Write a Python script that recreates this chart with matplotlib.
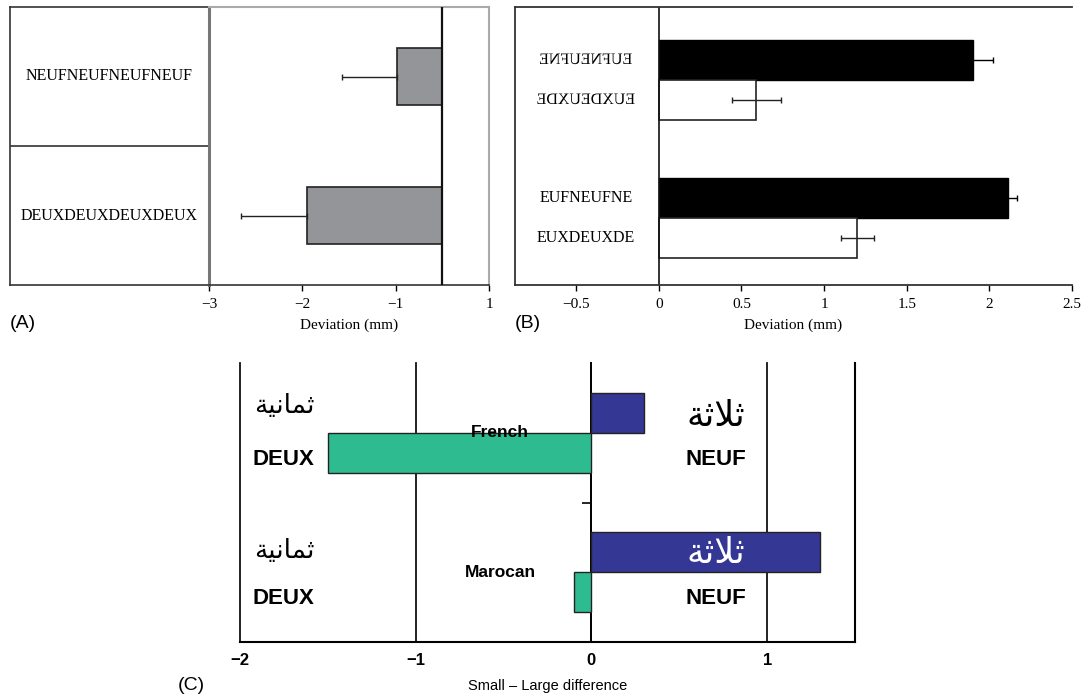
import matplotlib
matplotlib.use('Agg')
import matplotlib.pyplot as plt
from matplotlib import patheffects
from matplotlib.transforms import Affine2D

# ── Panel A data ─────────────────────────────────────────────────────────────
a_words = ['DEUXDEUXDEUXDEUX', 'NEUFNEUFNEUFNEUF']
a_dev = [-1.95, -0.99]
a_err_low = [0.71, 0.59]
a_ref = -0.5
a_ticks = [-3, -2, -1, 0]
a_tick_labels = ['\u22123', '\u22122', '\u22121', '1']

# ── Panel B data (index 0 = lower group, 1 = upper mirrored group) ──────────
b_neuf_words = ['EUFNEUFNE', 'EUFNEUFNE']
b_deux_words = ['EUXDEUXDE', 'EUXDEUXDE']
b_mirrored = [False, True]
b_neuf = [2.11, 1.90]
b_neuf_err = [0.06, 0.12]
b_deux = [1.20, 0.59]
b_deux_err = [0.10, 0.15]
b_ticks = [-0.5, 0, 0.5, 1, 1.5, 2, 2.5]
b_tick_labels = ['\u22120.5', '0', '0.5', '1', '1.5', '2', '2.5']

# ── Panel C data (index 0 = Marocan, 1 = French) ─────────────────────────────
c_groups = ['Marocan', 'French']
c_neuf = [1.30, 0.30]
c_deux = [-0.10, -1.50]
c_ticks = [-2, -1, 0, 1]
c_tick_labels = ['\u22122', '\u22121', '0', '1']
# Arabic words, shaped presentation forms in visual order
ar_eight = '\uFE94\uFEF4\uFEE7\uFE8E\uFEE4\uFE9B'   # ثمانية
ar_three = '\uFE94\uFE9B\uFEFC\uFE9B'               # ثلاثة

SERIF = 'Liberation Serif'
SANS = 'Liberation Sans'
GREY = '#939598'
BLUE = '#353795'
GREEN = '#2ebb8f'


class Mirror(patheffects.AbstractPathEffect):
    """Draw the text path flipped left-right around its own centre."""
    def draw_path(self, renderer, gc, tpath, affine, rgbFace=None):
        ext = tpath.get_extents(affine)
        cx = 0.5 * (ext.x0 + ext.x1)
        flip = affine + Affine2D().translate(-cx, 0).scale(-1, 1).translate(cx, 0)
        renderer.draw_path(gc, tpath, flip, rgbFace)


W, H = 1090, 698
fig = plt.figure(figsize=(W / 100, H / 100), dpi=100)


def box(x0, y0, x1, y1):
    return [x0 / W, 1 - y1 / H, (x1 - x0) / W, (y1 - y0) / H]


# ── Panel A ──────────────────────────────────────────────────────────────────
axL = fig.add_axes(box(10, 7, 209, 285))
axL.set_xlim(0, 1); axL.set_ylim(-0.5, 1.5)
axL.set_xticks([]); axL.set_yticks([])
axL.axhline(0.5, color='#333333', lw=1.2)
for sp in axL.spines.values():
    sp.set_color('#333333'); sp.set_linewidth(1.2)
for i, w in enumerate(a_words):
    axL.text(0.5, i, w, ha='center', va='center', family=SERIF, fontsize=11.5)

axA = fig.add_axes(box(209, 7, 489, 285))
ya = list(range(len(a_dev)))
axA.barh(ya, [d - a_ref for d in a_dev], left=a_ref, height=0.41,
         color=GREY, edgecolor='#222222', lw=1.2, zorder=2)
axA.errorbar(a_dev, ya, xerr=[a_err_low, [0] * len(a_dev)], fmt='none',
             ecolor='#222222', elinewidth=1, capsize=2.5, zorder=3)
axA.axvline(a_ref, color='#111111', lw=1.6, zorder=4)
axA.set_xlim(-3, 0); axA.set_ylim(-0.5, 1.5)
axA.set_xticks(a_ticks); axA.set_xticklabels(a_tick_labels, family=SERIF, fontsize=11)
axA.set_yticks([])
axA.tick_params(axis='x', direction='out', length=4, width=1, pad=5)
axA.spines['left'].set_color('#777777'); axA.spines['left'].set_linewidth(2.2)
axA.spines['top'].set_color('#aaaaaa'); axA.spines['top'].set_linewidth(1.5)
axA.spines['right'].set_color('#aaaaaa'); axA.spines['right'].set_linewidth(1.5)
axA.spines['bottom'].set_color('#333333'); axA.spines['bottom'].set_linewidth(1.2)
axA.set_xlabel('Deviation (mm)', family=SERIF, fontsize=11, labelpad=6)

# ── Panel B ──────────────────────────────────────────────────────────────────
axB = fig.add_axes(box(515, 7, 1072, 285))
off, bh = 0.145, 0.29
for i in range(len(b_neuf)):
    axB.barh(i + off, b_neuf[i], height=bh, color='black', edgecolor='black', lw=1)
    axB.barh(i - off, b_deux[i], height=bh, color='white', edgecolor='#222222', lw=1.2)
    axB.errorbar([b_neuf[i]], [i + off], xerr=[b_neuf_err[i]], fmt='none',
                 ecolor='black', elinewidth=1, capsize=2.5)
    axB.errorbar([b_deux[i]], [i - off], xerr=[b_deux_err[i]], fmt='none',
                 ecolor='#222222', elinewidth=1, capsize=2.5)
    pe = [Mirror()] if b_mirrored[i] else None
    axB.text(-0.44, i + off, b_neuf_words[i], ha='center', va='center',
             family=SERIF, fontsize=11.5, path_effects=pe)
    axB.text(-0.44, i - off, b_deux_words[i], ha='center', va='center',
             family=SERIF, fontsize=11.5, path_effects=pe)
axB.axvline(0, color='#111111', lw=1.2)
axB.set_xlim(-0.87, 2.5); axB.set_ylim(-0.486, 1.529)
axB.set_xticks(b_ticks); axB.set_xticklabels(b_tick_labels, family=SERIF, fontsize=11)
axB.set_yticks([])
axB.tick_params(axis='x', direction='out', length=4, width=1, pad=5)
axB.spines['right'].set_visible(False)
for k in ['left', 'top', 'bottom']:
    axB.spines[k].set_color('#333333'); axB.spines[k].set_linewidth(1.3)
axB.set_xlabel('Deviation (mm)', family=SERIF, fontsize=11, labelpad=6)

# ── Panel C ──────────────────────────────────────────────────────────────────
axC = fig.add_axes(box(240, 363, 855, 642))
coff, ch = 0.144, 0.288
yc = list(range(len(c_groups)))
axC.barh([y + coff for y in yc], c_neuf, height=ch, color=BLUE,
         edgecolor='#222222', lw=1, zorder=3)
axC.barh([y - coff for y in yc], c_deux, height=ch, color=GREEN,
         edgecolor='#222222', lw=1, zorder=3)
for x in c_ticks:
    axC.axvline(x, color='#111111', lw=1.3, zorder=1, clip_on=False)
axC.set_xlim(-2, 1.5); axC.set_ylim(-0.5, 1.5)
axC.set_xticks(c_ticks)
axC.set_xticklabels(c_tick_labels, family=SANS, fontweight='bold', fontsize=12)
axC.tick_params(axis='x', length=0, pad=8)
axC.spines['top'].set_visible(False)
axC.spines['left'].set_position(('data', 0))
axC.spines['left'].set_linewidth(1.3)
axC.spines['right'].set_linewidth(1.5)
axC.spines['bottom'].set_linewidth(1.5)
axC.set_yticks([-0.5, 0.5]); axC.set_yticklabels([])
axC.tick_params(axis='y', direction='out', length=6.5, width=1.2)

ar_eight_y = [0.15, 1.19]
ar_three_y = [0.14, 1.12]
ar_three_col = ['white', 'black']
for i, g in enumerate(c_groups):
    axC.text(-0.52, i, g, ha='center', va='center', family=SANS,
             fontweight='bold', fontsize=12.5, zorder=5)
    axC.text(-1.75, i - 0.19, 'DEUX', ha='center', va='center', family=SANS,
             fontweight='bold', fontsize=16, zorder=5)
    axC.text(0.71, i - 0.19, 'NEUF', ha='center', va='center', family=SANS,
             fontweight='bold', fontsize=16, zorder=5)
    axC.text(-1.75, ar_eight_y[i], ar_eight, ha='center', va='center',
             family='DejaVu Sans', fontsize=19, zorder=5)
    axC.text(0.71, ar_three_y[i], ar_three, ha='center', va='center',
             family='DejaVu Sans', fontsize=25, color=ar_three_col[i], zorder=5)
axC.set_xlabel('Small \u2013 Large difference', family=SANS, fontsize=10.5, labelpad=8)

# ── Panel letters ────────────────────────────────────────────────────────────
fig.text(10 / W, 1 - 323 / H, '(A)', family=SANS, fontsize=14, va='center')
fig.text(515 / W, 1 - 323 / H, '(B)', family=SANS, fontsize=14, va='center')
fig.text(178 / W, 1 - 685 / H, '(C)', family=SANS, fontsize=14, va='center')

fig.savefig('out.png', dpi=100, facecolor='white')
